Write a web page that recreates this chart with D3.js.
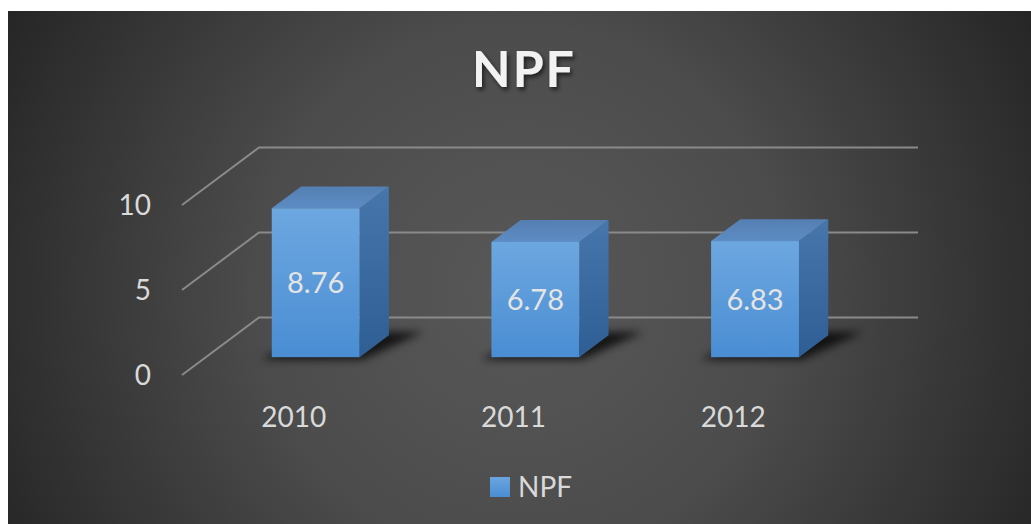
<!DOCTYPE html>
<html>
<head>
<meta charset="utf-8">
<script src="https://cdn.jsdelivr.net/npm/d3@7/dist/d3.min.js"></script>
<style>
  body { margin: 0; background: #fff; }
  svg { display: block; }
</style>
</head>
<body>
<script>
// chart data
var years = ["2010", "2011", "2012"];
var npf = [8.76, 6.78, 6.83];
var yTicks = [0, 5, 10];
var seriesName = "NPF";

var W = 1031, H = 524;
var svg = d3.select("body").append("svg")
   .attr("width", W)
   .attr("height", H);

var defs = svg.append("defs");

var bg = defs.append("radialGradient").attr("id", "bg")
  .attr("gradientUnits", "userSpaceOnUse")
  .attr("cx", 520).attr("cy", 290).attr("r", 580);
bg.append("stop").attr("offset", 0).attr("stop-color", "#585858");
bg.append("stop").attr("offset", 0.45).attr("stop-color", "#4c4c4c");
bg.append("stop").attr("offset", 1).attr("stop-color", "#262626");

function vgrad(id, c1, c2) {
  var g = defs.append("linearGradient").attr("id", id)
    .attr("x1", 0).attr("y1", 0).attr("x2", 0).attr("y2", 1);
  g.append("stop").attr("offset", 0).attr("stop-color", c1);
  g.append("stop").attr("offset", 1).attr("stop-color", c2);
}
vgrad("front", "#6da7e0", "#4a8dd3");
vgrad("side", "#4676ab", "#2f5e94");
vgrad("topf", "#557fb3", "#5c8cc4");
vgrad("leg", "#6aa5df", "#4a8dd3");

defs.append("filter").attr("id", "blur")
  .attr("x", "-50%").attr("y", "-50%").attr("width", "200%").attr("height", "200%")
  .append("feGaussianBlur").attr("stdDeviation", 4);

var tshadow = defs.append("filter").attr("id", "tshadow");
tshadow.append("feDropShadow").attr("dx", 2).attr("dy", 3)
  .attr("stdDeviation", 2).attr("flood-color", "#000").attr("flood-opacity", 0.6);

svg.append("rect")
  .attr("x", 8).attr("y", 11).attr("width", W - 8).attr("height", H - 11)
  .attr("fill", "url(#bg)");

// scales (front plane) + depth offset
var x = d3.scaleBand().domain(years).range([182, 841])
  .paddingInner(0.6).paddingOuter(0.3);
var xFull = d3.scaleBand().domain(years).range([182, 841]);
var y = d3.scaleLinear().domain([0, 10]).range([375, 205]);
var DX = 77, DY = -57.5;
var d0 = 0.31, d1 = 0.69;

function P(px, v, d) { return [px + d * DX, y(v) + d * DY]; }

// gridlines: diagonal on the left side, horizontal along the back wall
var grid = svg.append("g").attr("stroke", "#8a8a8a").attr("stroke-width", 2).attr("fill", "none");
yTicks.forEach(function(t) {
  var a = P(182, t, 0), b = P(182, t, 1), c = P(841, t, 1);
  grid.append("polyline").attr("points", [a, b, c].map(function(p) { return p.join(","); }).join(" "));
});

// y labels
svg.append("g").selectAll("text").data(yTicks).enter().append("text")
  .attr("x", 151)
  .attr("y", function(d) { return y(d); })
  .attr("dy", "0.36em")
  .attr("text-anchor", "end")
  .attr("font-family", "Lato, sans-serif")
  .attr("font-size", 28)
  .attr("fill", "#d9d9d9")
  .text(function(d) { return d; });

// x labels
svg.append("g").selectAll("text").data(years).enter().append("text")
  .attr("x", function(d) { return xFull(d) + xFull.bandwidth() / 2 + 2; })
  .attr("y", 417)
  .attr("dy", "0.36em")
  .attr("text-anchor", "middle")
  .attr("font-family", "Lato, sans-serif")
  .attr("font-size", 28)
  .attr("fill", "#d9d9d9")
  .text(function(d) { return d; });

function pts(arr) { return arr.map(function(p) { return p.join(","); }).join(" "); }

var bars = svg.append("g").selectAll("g").data(years).enter().append("g");

bars.each(function(cat, i) {
  var g = d3.select(this);
  var v = npf[i];
  var xl = x(cat), xr = x(cat) + x.bandwidth();
  // shadow on the floor
  g.append("polygon")
    .attr("points", pts([P(xl - 8, 0, d0 - 0.04), P(xr + 6, 0, d0 - 0.04),
                         P(xr + 30, 0, d1 + 0.06), P(xl + 14, 0, d1 + 0.06)]))
    .attr("fill", "#000").attr("opacity", 0.75).attr("filter", "url(#blur)");
  // side
  g.append("polygon")
    .attr("points", pts([P(xr, v, d0), P(xr, v, d1), P(xr, 0, d1), P(xr, 0, d0)]))
    .attr("fill", "url(#side)");
  // top
  g.append("polygon")
    .attr("points", pts([P(xl, v, d0), P(xr, v, d0), P(xr, v, d1), P(xl, v, d1)]))
    .attr("fill", "url(#topf)");
  // front
  var tl = P(xl, v, d0), br = P(xr, 0, d0);
  g.append("rect")
    .attr("x", tl[0]).attr("y", tl[1])
    .attr("width", br[0] - tl[0]).attr("height", br[1] - tl[1])
    .attr("fill", "url(#front)");
  g.append("text")
    .attr("x", (tl[0] + br[0]) / 2)
    .attr("y", (tl[1] + br[1]) / 2)
    .attr("dy", "0.36em")
    .attr("text-anchor", "middle")
    .attr("font-family", "Lato, sans-serif")
    .attr("font-size", 29)
    .attr("fill", "#e4e4e4")
    .text(v.toFixed(2));
});

// title
svg.append("text")
  .attr("x", 524).attr("y", 87)
  .attr("text-anchor", "middle")
  .attr("font-family", "Lato, sans-serif")
  .attr("font-weight", "bold")
  .attr("font-size", 50)
  .attr("letter-spacing", 2)
  .attr("fill", "#f2f2f2")
  .attr("filter", "url(#tshadow)")
  .text("NPF");

// legend
svg.append("rect")
  .attr("x", 490).attr("y", 477).attr("width", 20).attr("height", 20)
  .attr("fill", "url(#leg)");
svg.append("text")
  .attr("x", 518).attr("y", 497)
  .attr("font-family", "Lato, sans-serif")
  .attr("font-size", 28)
  .attr("fill", "#d9d9d9")
  .text(seriesName);
</script>
</body>
</html>
